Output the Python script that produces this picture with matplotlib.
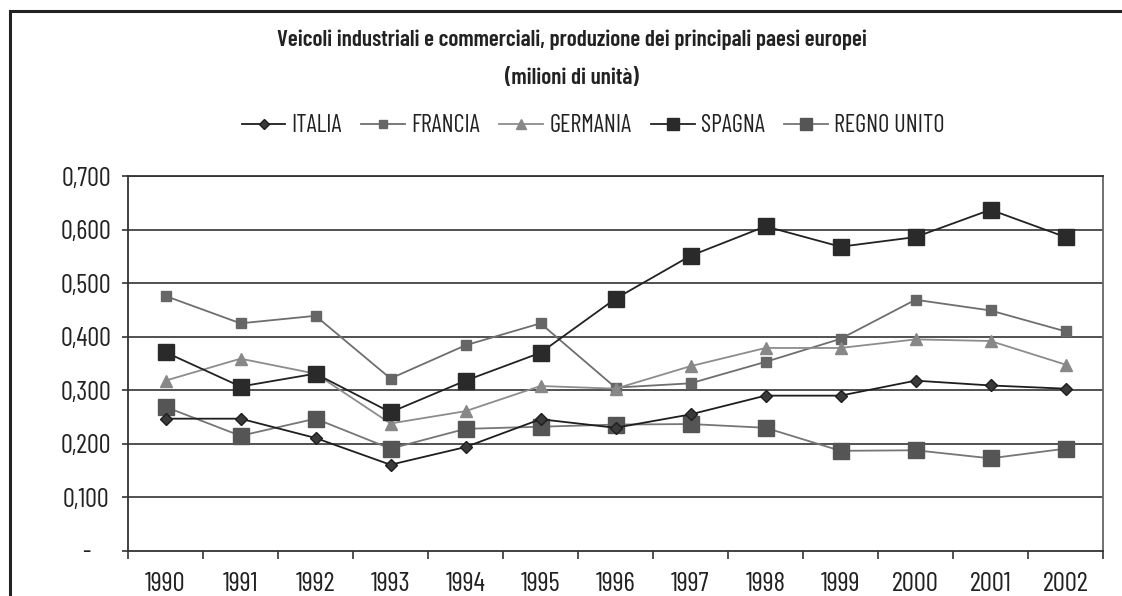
import numpy as np
import matplotlib
matplotlib.use('Agg')
import matplotlib.pyplot as plt
from matplotlib.patches import Rectangle
from matplotlib.ticker import FixedLocator, FuncFormatter

years = ['1990', '1991', '1992', '1993', '1994', '1995', '1996',
         '1997', '1998', '1999', '2000', '2001', '2002']

italia = [0.247, 0.247, 0.211, 0.161, 0.194, 0.246, 0.230,
          0.255, 0.290, 0.290, 0.318, 0.309, 0.303]
francia = [0.476, 0.425, 0.439, 0.322, 0.384, 0.425, 0.305,
           0.313, 0.353, 0.396, 0.469, 0.449, 0.410]
germania = [0.318, 0.359, 0.331, 0.238, 0.261, 0.308, 0.303,
            0.345, 0.379, 0.379, 0.395, 0.392, 0.348]
spagna = [0.371, 0.307, 0.331, 0.259, 0.318, 0.370, 0.471,
          0.551, 0.606, 0.568, 0.586, 0.637, 0.586]
regno_unito = [0.269, 0.215, 0.247, 0.191, 0.228, 0.232, 0.236,
               0.237, 0.230, 0.187, 0.188, 0.173, 0.191]

yticks = [0.0, 0.1, 0.2, 0.3, 0.4, 0.5, 0.6, 0.7]

# condensed face, similar to the narrow Futura of the original
plt.rcParams['font.family'] = ['Barlow Condensed', 'Liberation Sans Narrow', 'DejaVu Sans']
plt.rcParams['text.color'] = '#222222'

fig = plt.figure(figsize=(11.22, 5.96), dpi=100)
ax = fig.add_axes([128 / 1122, 1 - 551 / 596, 975 / 1122, 375 / 596])

x = np.arange(len(years))

# horizontal grid
for v in yticks[1:]:
    ax.axhline(v, color='#333333', lw=1.2, zorder=1)

ax.plot(x, francia, color='#6e6e6e', lw=1.3, marker='s', ms=6.5,
        mfc='#666666', mec='#666666', label='FRANCIA', zorder=3)
ax.plot(x, germania, color='#8c8c8c', lw=1.3, marker='^', ms=8,
        mfc='#888888', mec='#888888', label='GERMANIA', zorder=3)
ax.plot(x, regno_unito, color='#767676', lw=1.3, marker='s', ms=11,
        mfc='#555555', mec='#555555', label='REGNO UNITO', zorder=3)
ax.plot(x, italia, color='#1e1e1e', lw=1.3, marker='D', ms=6.5,
        mfc='#3a3a3a', mec='#1e1e1e', label='ITALIA', zorder=4)
ax.plot(x, spagna, color='#222222', lw=1.3, marker='s', ms=11,
        mfc='#2a2a2a', mec='#2a2a2a', label='SPAGNA', zorder=4)

ax.set_xlim(-0.5, len(years) - 0.5)
ax.set_ylim(0, 0.7)

ax.set_xticks(x)
ax.set_xticklabels(years)
ax.xaxis.set_minor_locator(FixedLocator(np.arange(-0.5, len(years), 1)))
ax.tick_params(axis='x', which='major', length=0, pad=15, labelsize=19.5,
               labelcolor='#222222')
ax.tick_params(axis='x', which='minor', length=5.5, width=1.2,
               color='#333333', direction='out')

ax.set_yticks(yticks)
ax.yaxis.set_major_formatter(FuncFormatter(
    lambda v, p: '-' if v == 0 else f'{v:.3f}'.replace('.', ',')))
ax.tick_params(axis='y', length=4, width=1.2, color='#333333',
               direction='out', pad=26, labelsize=19, labelcolor='#222222')
for lab in ax.get_yticklabels():
    lab.set_horizontalalignment('center')

for side in ['left', 'bottom', 'top']:
    ax.spines[side].set_color('#333333')
    ax.spines[side].set_linewidth(1.3)
ax.spines['right'].set_color('#666666')
ax.spines['right'].set_linewidth(1.3)

fig.text(572 / 1122, 1 - 40 / 596,
         'Veicoli industriali e commerciali, produzione dei principali paesi europei',
         ha='center', va='center', fontsize=16.6, fontweight='semibold')
fig.text(572 / 1122, 1 - 78 / 596, '(milioni di unità)',
         ha='center', va='center', fontsize=16.6, fontweight='semibold')

handles, labels = ax.get_legend_handles_labels()
order = ['ITALIA', 'FRANCIA', 'GERMANIA', 'SPAGNA', 'REGNO UNITO']
hl = dict(zip(labels, handles))
fig.legend([hl[k] for k in order], order, loc='center',
           bbox_to_anchor=(593 / 1122, 1 - 126 / 596), ncol=5,
           frameon=False, fontsize=17.5, handlelength=1.8,
           handletextpad=0.25, columnspacing=0.8, markerscale=0.85)

# outer frame, cut by the picture at right and bottom
fig.patches.append(Rectangle((10 / 1122, -0.2), 1.2, 1.2 - 11 / 596,
                             transform=fig.transFigure, fill=False,
                             lw=2.2, edgecolor='#222222', clip_on=False))

fig.savefig('out.png', dpi=100)
